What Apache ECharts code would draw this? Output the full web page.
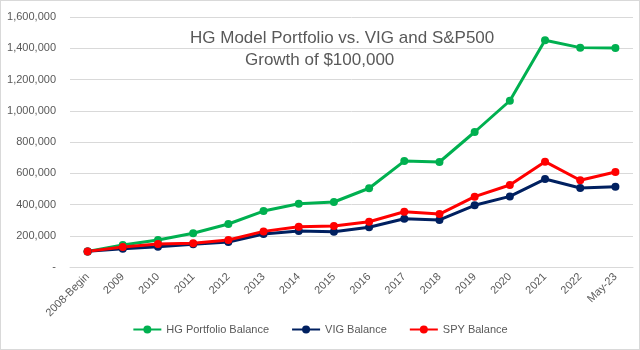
<!DOCTYPE html>
<html>
<head>
<meta charset="utf-8">
<script src="https://cdn.jsdelivr.net/npm/echarts@6/dist/echarts.min.js"></script>
<style>
  html, body { margin: 0; padding: 0; background: #fff; }
  #chart { width: 638px; height: 348px; border: 1px solid #d9d9d9; }
</style>
</head>
<body>
<div id="chart"></div>
<script>
// data
var years = ['2008-Begin', '2009', '2010', '2011', '2012', '2013', '2014', '2015', '2016',
  '2017', '2018', '2019', '2020', '2021', '2022', 'May-23']
var hgBalance = [100000, 141000, 173000, 216000, 275000, 358000, 405000, 416000, 504000,
  678000, 672000, 864000, 1064000, 1451000, 1404000, 1402000]
var vigBalance = [100000, 117000, 130000, 145000, 160000, 211000, 230000, 226000, 254000,
  309000, 301000, 395000, 452000, 563000, 506000, 514000]
var spyBalance = [100000, 128000, 147000, 152000, 173000, 228000, 258000, 262000, 290000,
  354000, 339000, 450000, 525000, 674000, 555000, 608000]

var myChart = echarts.init(document.getElementById('chart'))
var font = 'Liberation Sans'
var gray = '#595959'

function lineSeries(name, data, color) {
  return {
    name: name,
    type: 'line',
    data: data,
    symbol: 'circle',
    symbolSize: 8,
    lineStyle: { width: 3, color: color },
    itemStyle: { color: color },
    animation: false
  }
}

var option = {
  title: [
    {
      text: 'HG Model Portfolio vs. VIG and S&P500',
      left: 184,
      top: 24,
      textStyle: { fontFamily: font, fontSize: 17, fontWeight: 'normal', color: gray }
    },
    {
      text: 'Growth of $100,000',
      left: 239,
      top: 46,
      textStyle: { fontFamily: font, fontSize: 17, fontWeight: 'normal', color: gray }
    }
  ],
  grid: {
    left: 69,
    right: 6,
    top: 16,
    bottom: 82
  },
  legend: {
    bottom: 9,
    itemWidth: 28,
    itemHeight: 10,
    itemGap: 22,
    textStyle: { fontFamily: font, fontSize: 11, color: gray },
    data: ['HG Portfolio Balance', 'VIG Balance', 'SPY Balance']
  },
  xAxis: {
    type: 'category',
    data: years,
    boundaryGap: true,
    axisLine: { lineStyle: { color: '#d9d9d9' } },
    axisTick: { show: false },
    axisLabel: {
      rotate: 45,
      interval: 0,
      fontFamily: font,
      fontSize: 11,
      color: gray,
      margin: 8
    }
  },
  yAxis: {
    type: 'value',
    min: 0,
    max: 1600000,
    interval: 200000,
    axisLine: { show: false },
    axisTick: { show: false },
    splitLine: { lineStyle: { color: '#d9d9d9' } },
    axisLabel: {
      fontFamily: font,
      fontSize: 11,
      color: gray,
      margin: 14,
      formatter: function (v) {
        return v === 0 ? '-' : v.toLocaleString('en-US')
      }
    }
  },
  series: [
    lineSeries('HG Portfolio Balance', hgBalance, '#00b050'),
    lineSeries('VIG Balance', vigBalance, '#002060'),
    lineSeries('SPY Balance', spyBalance, '#ff0000')
  ]
}
myChart.setOption(option)
</script>
</body>
</html>
